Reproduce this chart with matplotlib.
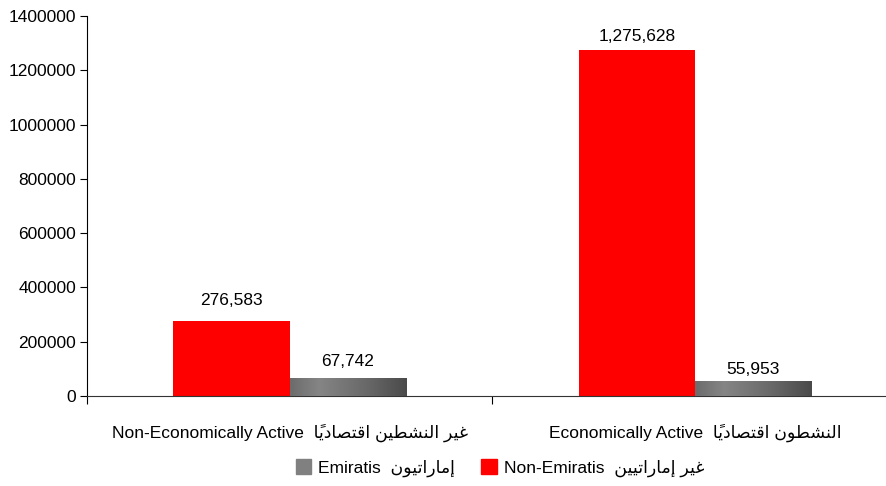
import numpy as np
import matplotlib
matplotlib.use('Agg')
from matplotlib import pyplot as plt
from matplotlib.colors import LinearSegmentedColormap
from matplotlib.patches import Patch

# data
categories_en = ['Non-Economically Active', 'Economically Active']
categories_ar = ['غير النشطين اقتصادياً', 'النشطون اقتصادياً']
non_emiratis = [276583, 1275628]
emiratis = [67742, 55953]
series_en = ['Emiratis', 'Non-Emiratis']
series_ar = ['إماراتيون', 'غير إماراتيين']
yticks = [0, 200000, 400000, 600000, 800000, 1000000, 1200000, 1400000]

# small arabic shaper (presentation forms + visual order), only letters used here
FORMS = {
    'ا': ('\uFE8D', '\uFE8E', None, None),
    'إ': ('\uFE87', '\uFE88', None, None),
    'ت': ('\uFE95', '\uFE96', '\uFE97', '\uFE98'),
    'د': ('\uFEA9', '\uFEAA', None, None),
    'ر': ('\uFEAD', '\uFEAE', None, None),
    'ش': ('\uFEB5', '\uFEB6', '\uFEB7', '\uFEB8'),
    'ص': ('\uFEB9', '\uFEBA', '\uFEBB', '\uFEBC'),
    'ط': ('\uFEC1', '\uFEC2', '\uFEC3', '\uFEC4'),
    'غ': ('\uFECD', '\uFECE', '\uFECF', '\uFED0'),
    'ق': ('\uFED5', '\uFED6', '\uFED7', '\uFED8'),
    'ل': ('\uFEDD', '\uFEDE', '\uFEDF', '\uFEE0'),
    'م': ('\uFEE1', '\uFEE2', '\uFEE3', '\uFEE4'),
    'ن': ('\uFEE5', '\uFEE6', '\uFEE7', '\uFEE8'),
    'و': ('\uFEED', '\uFEEE', None, None),
    'ي': ('\uFEF1', '\uFEF2', '\uFEF3', '\uFEF4'),
}
MARKS = '\u064B'


def shape(text):
    chars = list(text)
    out = []
    for i, c in enumerate(chars):
        if c not in FORMS:
            out.append(c)
            continue
        j = i - 1
        while j >= 0 and chars[j] in MARKS:
            j -= 1
        join_prev = j >= 0 and chars[j] in FORMS and FORMS[chars[j]][2] is not None
        k = i + 1
        while k < len(chars) and chars[k] in MARKS:
            k += 1
        join_next = FORMS[c][2] is not None and k < len(chars) and chars[k] in FORMS
        iso, fin, ini, med = FORMS[c]
        if join_prev and join_next:
            out.append(med)
        elif join_prev:
            out.append(fin)
        elif join_next:
            out.append(ini)
        else:
            out.append(iso)
    # clusters of base + marks, reversed for left-to-right drawing
    clusters = []
    for c in out:
        if c in MARKS and clusters:
            clusters[-1] += c
        else:
            clusters.append(c)
    return ''.join(clusters[::-1])


plt.rcParams['font.family'] = ['Liberation Sans', 'DejaVu Sans']
plt.rcParams['font.size'] = 12.5

fig = plt.figure(figsize=(8.87, 4.86), dpi=100)
ax = fig.add_axes([87 / 887, 90 / 486, 800 / 887, 380 / 486])

x = np.arange(len(categories_en))
w = 0.287
red_bars = ax.bar(x - w / 2, non_emiratis, w, color='#ff0000', zorder=2)
gray_bars = ax.bar(x + w / 2, emiratis, w, color='#6e6e6e', zorder=2)

# horizontal gradient on the gray bars
cmap = LinearSegmentedColormap.from_list(
    'g', [(0, '#6c6c6c'), (0.25, '#858585'), (0.65, '#696969'), (1, '#4a4a4a')])
grad = np.linspace(0, 1, 256).reshape(1, -1)
for b in gray_bars:
    im = ax.imshow(grad, cmap=cmap, aspect='auto', zorder=3,
                   extent=[b.get_x(), b.get_x() + b.get_width(), 0, b.get_height()])
    im.set_clip_path(b)

# label gaps above the bars (points), as placed in the reference
red_pad = [9.5, 4.5]
gray_pad = [6, 3]
for bars, vals, pads in [(red_bars, non_emiratis, red_pad), (gray_bars, emiratis, gray_pad)]:
    for b, v, p in zip(bars, vals, pads):
        ax.annotate(f'{v:,}', (b.get_x() + b.get_width() / 2, v), xytext=(0, p),
                    textcoords='offset points', ha='center', va='bottom')

ax.set_xlim(-0.5, 1 + 192 / 405)
ax.set_ylim(0, 1400000)
ax.set_yticks(yticks)
ax.set_yticklabels([str(t) for t in yticks])
ax.set_xticks([-0.5, 0.5])
ax.set_xticklabels(['', ''])
ax.set_xticks(x, minor=True)
ax.set_xticklabels([f'{en}  {shape(ar)}' for en, ar in zip(categories_en, categories_ar)], minor=True)
ax.tick_params(axis='x', which='major', length=6, direction='out')
ax.tick_params(axis='x', which='minor', length=0, pad=20)
ax.tick_params(axis='y', length=5, direction='out', pad=3)
ax.spines['bottom'].set_color('#333333')
for s in ['top', 'right']:
    ax.spines[s].set_visible(False)

handles = [Patch(color='#808080'), Patch(color='#ff0000')]
labels = [f'{en}  {shape(ar)}' for en, ar in zip(series_en, series_ar)]
fig.legend(handles, labels, loc='center', bbox_to_anchor=(500 / 887, 18 / 486), ncol=2,
           frameon=False, handlelength=0.9, handleheight=0.9, handletextpad=0.4, columnspacing=1.5)

fig.savefig('out.png', dpi=100)
